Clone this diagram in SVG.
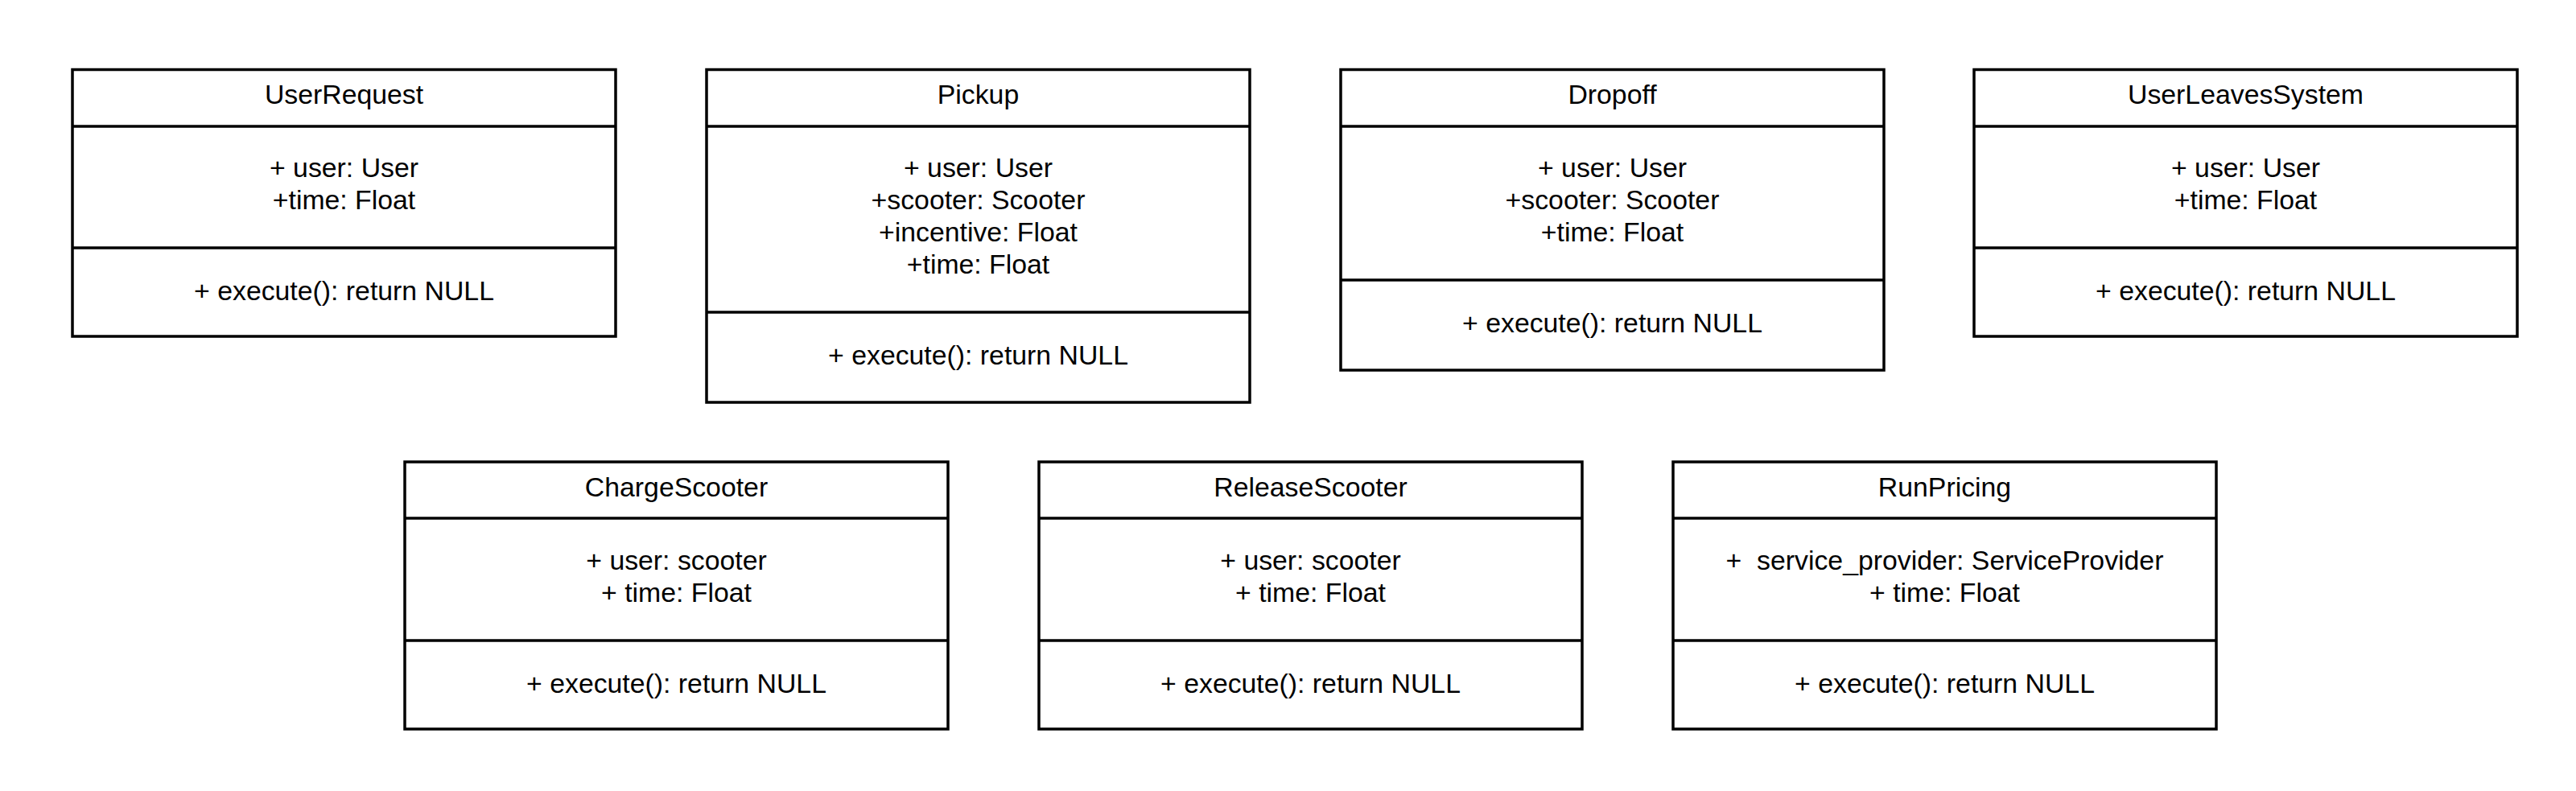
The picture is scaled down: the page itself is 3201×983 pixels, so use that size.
<svg xmlns="http://www.w3.org/2000/svg" width="3201" height="983" viewBox="0 0 3201 983">
<style>
.box{fill:#ffffff;stroke:#000000;stroke-width:3.5}
.div{stroke:#000000;stroke-width:3.5}
text{font-family:"Liberation Sans",Arial,sans-serif;font-size:33.8px;fill:#000000;text-anchor:middle}
</style>
<rect width="3201" height="983" fill="#ffffff"/>
<g id="UserRequest">
<rect class="box" x="90" y="86.5" width="675" height="331.5"/>
<line class="div" x1="90" y1="157" x2="765" y2="157"/>
<line class="div" x1="90" y1="308" x2="765" y2="308"/>
<text x="427.5" y="129">UserRequest</text>
<text x="427.5" y="220">+ user: User</text>
<text x="427.5" y="260">+time: Float</text>
<text x="427.5" y="373">+ execute(): return NULL</text>
</g>
<g id="Pickup">
<rect class="box" x="878" y="86.5" width="675" height="413.5"/>
<line class="div" x1="878" y1="157" x2="1553" y2="157"/>
<line class="div" x1="878" y1="388" x2="1553" y2="388"/>
<text x="1215.5" y="129">Pickup</text>
<text x="1215.5" y="220">+ user: User</text>
<text x="1215.5" y="260">+scooter: Scooter</text>
<text x="1215.5" y="300">+incentive: Float</text>
<text x="1215.5" y="340">+time: Float</text>
<text x="1215.5" y="453">+ execute(): return NULL</text>
</g>
<g id="Dropoff">
<rect class="box" x="1666" y="86.5" width="675" height="373.5"/>
<line class="div" x1="1666" y1="157" x2="2341" y2="157"/>
<line class="div" x1="1666" y1="348" x2="2341" y2="348"/>
<text x="2003.5" y="129">Dropoff</text>
<text x="2003.5" y="220">+ user: User</text>
<text x="2003.5" y="260">+scooter: Scooter</text>
<text x="2003.5" y="300">+time: Float</text>
<text x="2003.5" y="413">+ execute(): return NULL</text>
</g>
<g id="UserLeavesSystem">
<rect class="box" x="2453" y="86.5" width="675" height="331.5"/>
<line class="div" x1="2453" y1="157" x2="3128" y2="157"/>
<line class="div" x1="2453" y1="308" x2="3128" y2="308"/>
<text x="2790.5" y="129">UserLeavesSystem</text>
<text x="2790.5" y="220">+ user: User</text>
<text x="2790.5" y="260">+time: Float</text>
<text x="2790.5" y="373">+ execute(): return NULL</text>
</g>
<g id="ChargeScooter">
<rect class="box" x="503" y="574" width="675" height="332"/>
<line class="div" x1="503" y1="644" x2="1178" y2="644"/>
<line class="div" x1="503" y1="796" x2="1178" y2="796"/>
<text x="840.5" y="616.5">ChargeScooter</text>
<text x="840.5" y="707.5">+ user: scooter</text>
<text x="840.5" y="747.5">+ time: Float</text>
<text x="840.5" y="861">+ execute(): return NULL</text>
</g>
<g id="ReleaseScooter">
<rect class="box" x="1291" y="574" width="675" height="332"/>
<line class="div" x1="1291" y1="644" x2="1966" y2="644"/>
<line class="div" x1="1291" y1="796" x2="1966" y2="796"/>
<text x="1628.5" y="616.5">ReleaseScooter</text>
<text x="1628.5" y="707.5">+ user: scooter</text>
<text x="1628.5" y="747.5">+ time: Float</text>
<text x="1628.5" y="861">+ execute(): return NULL</text>
</g>
<g id="RunPricing">
<rect class="box" x="2079" y="574" width="675" height="332"/>
<line class="div" x1="2079" y1="644" x2="2754" y2="644"/>
<line class="div" x1="2079" y1="796" x2="2754" y2="796"/>
<text x="2416.5" y="616.5">RunPricing</text>
<text x="2416.5" y="707.5" xml:space="preserve">+  service_provider: ServiceProvider</text>
<text x="2416.5" y="747.5">+ time: Float</text>
<text x="2416.5" y="861">+ execute(): return NULL</text>
</g>
<g id="connectors"/>
</svg>
